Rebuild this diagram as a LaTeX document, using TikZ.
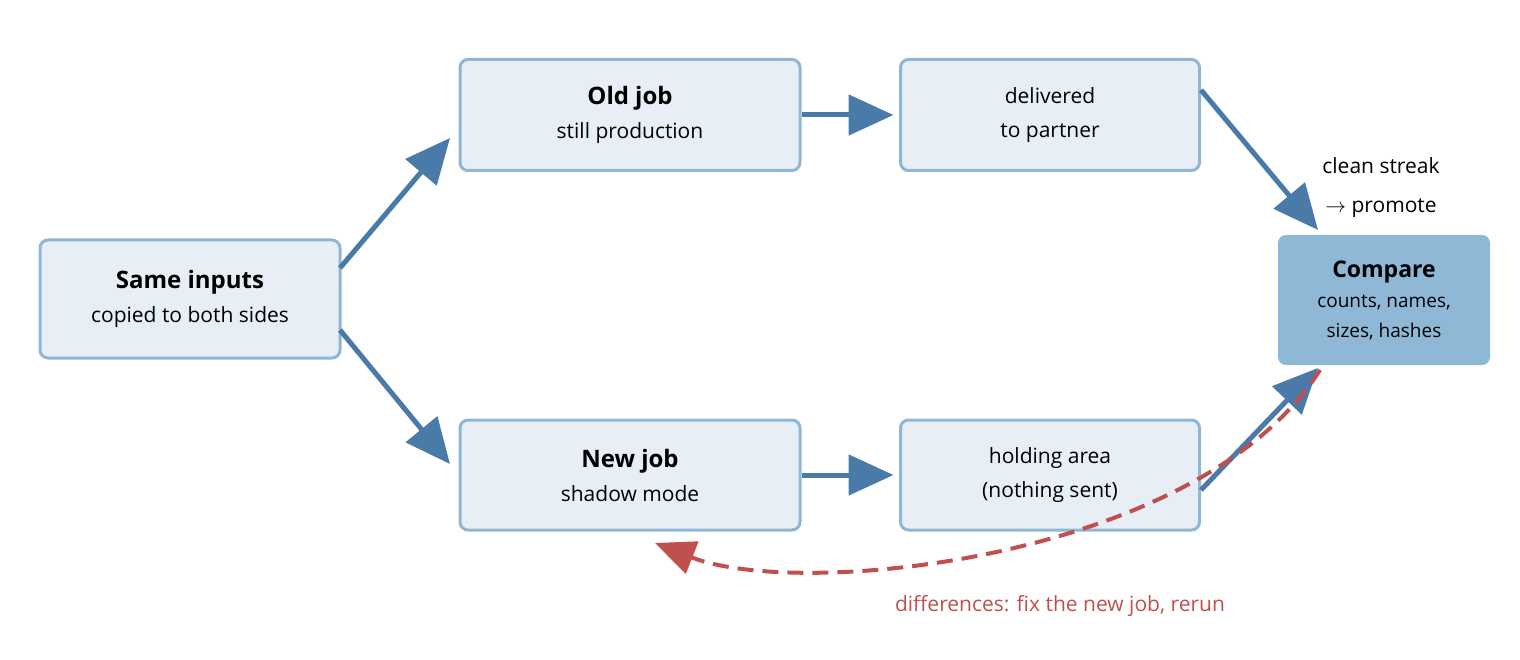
\documentclass[tikz,border=0pt]{standalone}
\usepackage{fontspec}
\setmainfont{Open Sans}
\usetikzlibrary{arrows.meta}
\definecolor{boxfill}{HTML}{E8EEF5}
\definecolor{boxline}{HTML}{8FB6D4}
\definecolor{arr}{HTML}{4A7AA8}
\definecolor{cmp}{HTML}{8FB8D6}
\definecolor{red}{HTML}{C0504D}
\begin{document}
\begin{tikzpicture}[x=1pt,y=-1pt,
  box/.style={draw=boxline,fill=boxfill,line width=3pt,rounded corners=8pt,align=center,font=\fontsize{21}{34}\selectfont},
  ar/.style={draw=arr,line width=5pt,-{Triangle[length=45pt,width=40pt]}},
  rd/.style={draw=red,line width=4pt,dash pattern=on 16pt off 9pt,-{Triangle[length=40pt,width=34pt]}}]
\useasboundingbox (0,0) rectangle (1520,660);
\node[box,minimum width=300pt,minimum height=118pt] (in) at (190,299) {{\fontsize{24}{30}\selectfont\bfseries Same inputs}\\copied to both sides};
\node[box,minimum width=340pt,minimum height=111pt] (old) at (630,115) {{\fontsize{24}{30}\selectfont\bfseries Old job}\\still production};
\node[box,minimum width=299pt,minimum height=111pt] (del) at (1050,115) {delivered\\to partner};
\node[box,minimum width=340pt,minimum height=110pt] (new) at (630,475) {{\fontsize{24}{30}\selectfont\bfseries New job}\\shadow mode};
\node[box,minimum width=299pt,minimum height=110pt] (hold) at (1050,475) {holding area\\(nothing sent)};
\node[fill=cmp,rounded corners=8pt,minimum width=212pt,minimum height=130pt,align=center,font=\fontsize{19}{30}\selectfont] (cmp) at (1384,300) {{\fontsize{23}{30}\selectfont\bfseries Compare}\\counts, names,\\sizes, hashes};
\node[font=\fontsize{21}{39}\selectfont,align=center] (lab) at (1381,188) {clean streak\\$\rightarrow$ promote};
\node[font=\fontsize{21}{26}\selectfont,text=red] (dl) at (1060,606) {differences: fix the new job, rerun};
\coordinate (a1) at (340,268); \coordinate (b1) at (450,138);
\coordinate (a2) at (340,330); \coordinate (b2) at (450,464);
\draw[ar] (a1) -- (b1);
\draw[ar] (a2) -- (b2);
\draw[ar] (old.east) -- ([xshift=92pt]old.east);
\draw[ar] (new.east) -- ([xshift=92pt]new.east);
\draw[ar] ([yshift=25pt]del.east) -- (1318,230);
\draw[ar] ([yshift=-15pt]hold.east) -- (1318,368);
\draw[rd] (1320,370) .. controls (1200,560) and (800,600) .. (655,543);
\end{tikzpicture}
\end{document}
